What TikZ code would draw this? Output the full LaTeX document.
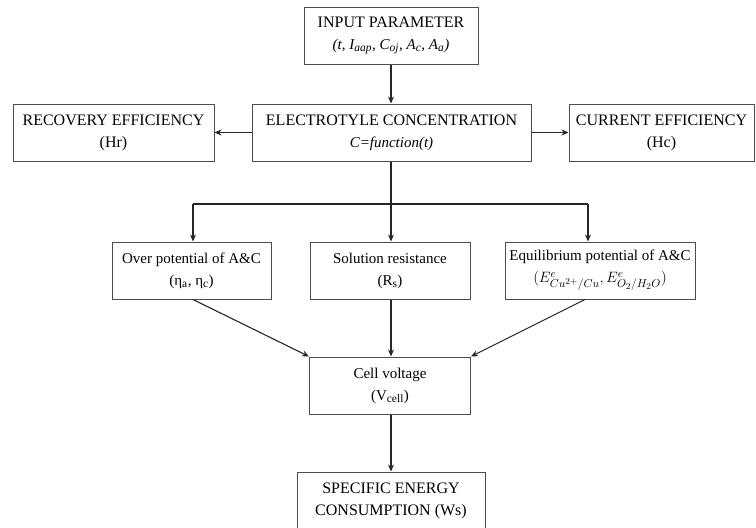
\documentclass[tikz,border=0pt]{standalone}
\usepackage{fix-cm}
\usepackage{fontspec}
\setmainfont{Liberation Serif}
\DeclareMathSizes{15}{15}{11.5}{9}
\usetikzlibrary{arrows.meta}
\begin{document}
\begin{tikzpicture}[x=1pt,y=-1pt,
  box/.style={draw=black!70,line width=1pt,inner sep=0pt,align=center,
    minimum height=57pt,font=\fontsize{15}{22}\selectfont},
  capsbox/.style={box,font=\fontsize{16}{22}\selectfont},
  conn/.style={line width=1.1pt,draw=black!85,-{Stealth[length=7pt,width=6pt]}},
  seg/.style={line width=1.1pt,draw=black!85}]
\useasboundingbox (0,0) rectangle (756,528);
\node[capsbox,minimum width=174pt] (inp) at (391,35.5) {INPUT PARAMETER\\{\fontsize{15}{22}\selectfont\textit{(t, I\textsubscript{aap}, C\textsubscript{oj}, A\textsubscript{c}, A\textsubscript{a})}}};
\node[capsbox,minimum width=279pt] (elec) at (391.5,132.5) {ELECTROTYLE CONCENTRATION\\{\fontsize{15}{22}\selectfont\textit{C=function(t)}}};
\node[capsbox,minimum width=201pt] (rec) at (113.5,132.5) {RECOVERY EFFICIENCY\\(Hr)};
\node[capsbox,minimum width=185pt] (cur) at (661.5,132.5) {CURRENT EFFICIENCY\\(Hc)};
\node[box,minimum width=159pt] (over) at (191.5,270.5) {Over potential of A\&C\\(η\textsubscript{a}, η\textsubscript{c})};
\node[box,minimum width=160pt] (sol) at (390,270.5) {Solution resistance\\(R\textsubscript{s})};
\node[box,minimum width=190pt] (equ) at (600,270.5) {Equilibrium potential of A\&C\\$(E^{e}_{Cu^{2+}/Cu}, E^{e}_{O_2/H_2O})$};
\node[box,minimum width=161pt] (cell) at (390,385.5) {Cell voltage\\(V\textsubscript{cell})};
\node[capsbox,minimum width=188pt,minimum height=58pt] (spec) at (391,501) {SPECIFIC ENERGY\\CONSUMPTION (Ws)};
\coordinate (split) at (391,204);
\coordinate (hl) at (193,204);
\coordinate (hr) at (588,204);
\draw[conn] (inp.south -| split) -- (elec.north -| split);
\draw[conn] (elec.west) -- (rec.east);
\draw[conn] (elec.east) -- (cur.west);
\draw[conn] (elec.south -| split) -- (sol.north -| split);
\draw[seg] (hl) -- (hr);
\draw[conn] (hl) -- (over.north -| hl);
\draw[conn] (hr) -- (equ.north -| hr);
\draw[conn] (over.south -| hl) -- (cell.north west);
\draw[conn] ([xshift=-15pt]equ.south) -- (cell.north east);
\draw[conn] (sol.south -| split) -- (cell.north -| split);
\draw[conn] (cell.south -| split) -- (spec.north -| split);
\end{tikzpicture}
\end{document}
